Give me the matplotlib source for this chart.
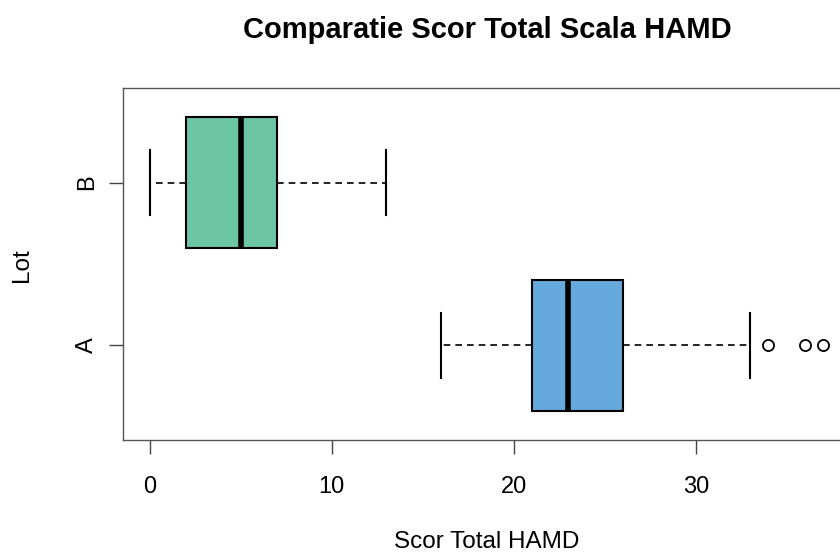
import matplotlib
matplotlib.use("Agg")
import matplotlib.pyplot as plt

plt.rcParams['font.family'] = ['Liberation Sans', 'DejaVu Sans']

# box statistics (Scor Total HAMD per lot)
groups = ["A", "B"]
whis_low = [16, 0]
q1 = [21, 2]
medians = [23, 5]
q3 = [26, 7]
whis_high = [33, 13]
outliers = [[34, 36, 37], []]
colors = ["#66A9DC", "#6CC5A5"]

stats = []
for i, g in enumerate(groups):
    stats.append({
        "label": g,
        "whislo": whis_low[i],
        "q1": q1[i],
        "med": medians[i],
        "q3": q3[i],
        "whishi": whis_high[i],
        "fliers": outliers[i],
    })

fig = plt.figure(figsize=(8.4, 5.54), dpi=100)
# axes box spans x 123..850 px, y 88..440 px (right edge cropped by figure)
ax = fig.add_axes([123 / 840, 1 - 440 / 554, (850 - 123) / 840, (440 - 88) / 554])

bp = ax.bxp(
    stats,
    positions=[1, 2],
    widths=0.8,
    vert=False,
    patch_artist=True,
    showfliers=True,
    boxprops=dict(edgecolor="black", linewidth=1.5),
    medianprops=dict(color="black", linewidth=4, solid_capstyle="butt"),
    whiskerprops=dict(color="black", linewidth=1.2, linestyle=(0, (4, 3))),
    capprops=dict(color="black", linewidth=1.5),
    capwidths=0.4,
    flierprops=dict(marker="o", markersize=8, markerfacecolor="none",
                    markeredgecolor="black", markeredgewidth=1.3),
)
for patch, c in zip(bp["boxes"], colors):
    patch.set_facecolor(c)

ax.set_xlim(-1.48, 38.48)
ax.set_ylim(0.42, 2.58)
ax.set_xticks([0, 10, 20, 30])
ax.set_yticks([1, 2])
ax.set_yticklabels(groups, rotation=90, va="center")
ax.tick_params(axis="both", labelsize=17, length=10, width=1, color="#444444")
ax.tick_params(axis="x", pad=16)
ax.tick_params(axis="y", pad=8)

for s in ax.spines.values():
    s.set_color("#555555")
    s.set_linewidth(1)

ax.set_xlabel("Scor Total HAMD", fontsize=17.5, va="center")
ax.xaxis.set_label_coords((487 - 123) / 727, (440 - 542) / 352)
ax.set_ylabel("Lot", fontsize=17.5, va="center")
ax.yaxis.set_label_coords((22 - 123) / 727, (440 - 265) / 352)
fig.text(487 / 840, 1 - 30 / 554, "Comparatie Scor Total Scala HAMD",
         ha="center", va="center", fontsize=21, fontweight="bold")

fig.savefig("out.png", dpi=100)
